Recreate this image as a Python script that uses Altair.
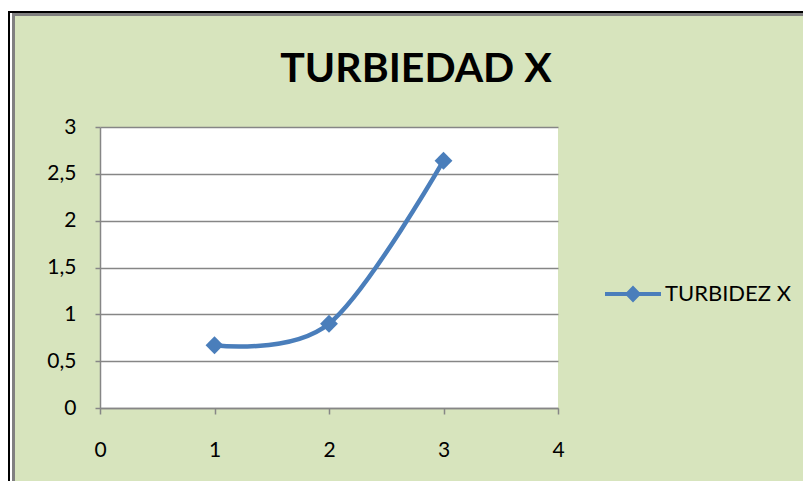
import altair as alt
import pandas as pd

# ---- data ----
x_vals = [1, 2, 3]
y_vals = [0.67, 0.90, 2.64]
series_name = "TURBIDEZ X"
chart_title = "TURBIEDAD X"
x_ticks = [0, 1, 2, 3, 4]
y_ticks = [0, 0.5, 1, 1.5, 2, 2.5, 3]

df = pd.DataFrame({"x": x_vals, "y": y_vals, "serie": [series_name] * len(x_vals)})

BLUE = "#4A7EBB"
GREEN = "#D7E4BD"
GRAY = "#868686"
FONT = "Lato"

one = alt.Data(values=[{}])


def strip(x1, x2, y1, y2, color):
    return alt.Chart(one).mark_rect(color=color, strokeWidth=0).encode(
        x=alt.value(x1), x2=alt.value(x2), y=alt.value(y1), y2=alt.value(y2)
    )


frame = [
    strip(-92, -88, -119, 400, "white"),
    strip(-92, 800, -119, -116, "white"),
    strip(-92, -90, -116, 400, "black"),
    strip(-92, 800, -116, -114, "black"),
    strip(-88, -85, -114, 400, "#808080"),
    strip(-88, 800, -114, -111, "#808080"),
]

title = alt.Chart(one).mark_text(
    text=chart_title, font=FONT, fontSize=41, fontWeight="bold", color="black",
    align="center", baseline="alphabetic"
).encode(x=alt.value(316), y=alt.value(-45))

xenc = alt.X(
    "x:Q",
    scale=alt.Scale(domain=[0, 4], nice=False, zero=False),
    axis=alt.Axis(values=x_ticks, grid=False, title=None, format="d",
                  tickSize=6, labelPadding=25, labelFlush=False),
)
yenc = alt.Y(
    "y:Q",
    scale=alt.Scale(domain=[0, 3], nice=False),
    axis=alt.Axis(values=y_ticks, grid=True, title=None, tickSize=5,
                  labelPadding=19, labelFlush=False,
                  labelExpr="replace(format(datum.value, '~g'), '.', ',')"),
)

line = alt.Chart(df).mark_line(
    interpolate="cardinal", color=BLUE, strokeWidth=4.5
).encode(x=xenc, y=yenc)

legend_symbol = ("M-1,-0.075L-0.225,-0.075L0,-0.3L0.225,-0.075L1,-0.075L1,0.075"
                 "L0.225,0.075L0,0.3L-0.225,0.075L-1,0.075Z")

points = alt.Chart(df).mark_point(
    shape="diamond", filled=True, size=320, opacity=1
).encode(
    x="x:Q",
    y="y:Q",
    color=alt.Color(
        "serie:N",
        scale=alt.Scale(domain=[series_name], range=[BLUE]),
        legend=alt.Legend(
            title=None, orient="none", legendX=505, legendY=139,
            symbolType=legend_symbol, symbolSize=3136, symbolOpacity=1,
            symbolStrokeWidth=0, labelFont=FONT, labelFontSize=22,
            labelColor="black", labelOffset=4, padding=0,
        ),
    ),
)

chart = alt.layer(*frame, title, line, points).properties(
    width=458,
    height=281,
    padding={"left": 92, "top": 119, "right": 245, "bottom": 73},
    autosize=alt.AutoSizeParams(type="none"),
    background=GREEN,
).configure_view(
    fill="white", stroke=None
).configure_axis(
    domainColor=GRAY, domainWidth=1.5, tickColor=GRAY, tickWidth=1.5,
    gridColor=GRAY, gridWidth=1.5, labelFont=FONT, labelFontSize=21,
    labelColor="black",
)

chart.save("out.html", embed_options={"renderer": "svg", "actions": False})
